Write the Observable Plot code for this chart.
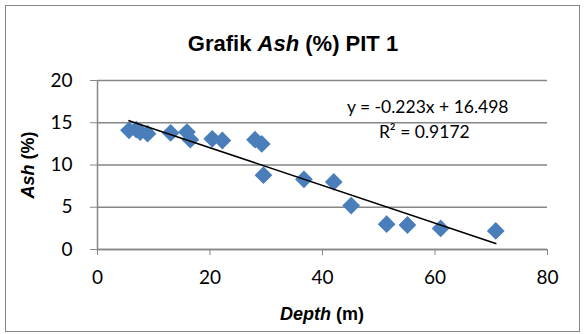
<!DOCTYPE html>
<html>
<head>
<meta charset="utf-8">
<script src="https://cdn.jsdelivr.net/npm/d3@7"></script>
<script src="https://cdn.jsdelivr.net/npm/@observablehq/plot@0.6"></script>
<style>
  html, body { margin: 0; padding: 0; background: #fff; }
  #chart { width: 585px; height: 334px; }
  svg { display: block; }
</style>
</head>
<body>
<div id="chart"></div>
<script>
// Data
const depth = [5.6, 6.9, 7.6, 8.9, 13.0, 15.9, 16.5, 20.4, 22.2, 28.0, 29.2, 29.5, 36.7, 42.0, 45.1, 51.4, 55.1, 61.0, 70.8];
const ash   = [14.1, 14.2, 13.9, 13.7, 13.8, 13.9, 13.0, 13.1, 12.9, 13.0, 12.5, 8.8, 8.3, 8.0, 5.2, 3.0, 2.9, 2.5, 2.2];
const xTicks = [0, 20, 40, 60, 80];
const yTicks = [0, 5, 10, 15, 20];
const slope = -0.223, intercept = 16.498;
const eqLabel = "y = -0.223x + 16.498";
const r2Label = "R² = 0.9172";

const points = depth.map((d, i) => ({depth: d, ash: ash[i]}));
const xMin = d3.min(depth), xMax = d3.max(depth);
const trend = [xMin, xMax].map(x => ({depth: x, ash: slope * x + intercept}));

const gridColor = "#868686";
const tickFont = "Lato, 'Open Sans', sans-serif";

const plot = Plot.plot({
  width: 585,
  height: 334,
  marginLeft: 97,
  marginRight: 38,
  marginTop: 80,
  marginBottom: 85,
  style: {fontFamily: tickFont, fontSize: "19px", color: "black", background: "white"},
  x: {domain: [0, 80], label: null},
  y: {domain: [0, 20], label: null},
  marks: [
    Plot.gridY(yTicks, {stroke: gridColor, strokeOpacity: 1, strokeWidth: 1.5}),
    Plot.ruleX([0], {stroke: gridColor, strokeWidth: 1.5}),
    Plot.ruleY([0], {stroke: gridColor, strokeWidth: 1.5}),
    Plot.axisY(yTicks, {tickSize: 7, tickPadding: 18, stroke: gridColor, fill: "black", label: null, fontSize: 19}),
    Plot.axisX(xTicks, {tickSize: 6, tickPadding: 15, stroke: gridColor, fill: "black", label: null, fontSize: 19}),
    Plot.dot(points, {x: "depth", y: "ash", symbol: "diamond2", r: 8, fill: "#4A7EBB", stroke: "none"}),
    Plot.line(trend, {x: "depth", y: "ash", stroke: "black", strokeWidth: 1.6}),
    Plot.text([eqLabel], {x: 58.7, y: 16.85, text: d => d, fontSize: 17.5, fill: "black"}),
    Plot.text([r2Label], {x: 58.1, y: 13.8, text: d => d, fontSize: 17.5, fill: "black"})
  ]
});

document.getElementById("chart").appendChild(plot);

const svg = d3.select(plot);
// outer chart border
svg.insert("rect", ":first-child")
  .attr("x", 5.5).attr("y", 5.5).attr("width", 574).attr("height", 326)
  .attr("fill", "white").attr("stroke", gridColor).attr("stroke-width", 1);

// title
const title = svg.append("text")
  .attr("x", 293).attr("y", 51)
  .attr("text-anchor", "middle")
  .style("font-family", "'Liberation Sans', Arial, sans-serif")
  .style("font-size", "22px").style("font-weight", "bold").attr("fill", "black");
title.append("tspan").text("Grafik ");
title.append("tspan").style("font-style", "italic").text("Ash");
title.append("tspan").text(" (%) PIT 1");

// x-axis title
const xt = svg.append("text")
  .attr("x", 322).attr("y", 320)
  .attr("text-anchor", "middle")
  .style("font-family", "'Liberation Sans', Arial, sans-serif")
  .style("font-size", "18px").style("font-weight", "bold").attr("fill", "black");
xt.append("tspan").style("font-style", "italic").text("Depth");
xt.append("tspan").text(" (m)");

// y-axis title
const yt = svg.append("text")
  .attr("transform", "translate(34,165) rotate(-90)")
  .attr("text-anchor", "middle")
  .style("font-family", "'Liberation Sans', Arial, sans-serif")
  .style("font-size", "18px").style("font-weight", "bold").attr("fill", "black");
yt.append("tspan").style("font-style", "italic").text("Ash");
yt.append("tspan").text(" (%)");
</script>
</body>
</html>
